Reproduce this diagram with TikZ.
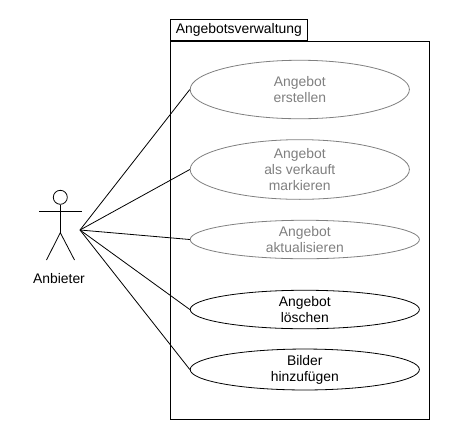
\documentclass[tikz,border=0pt]{standalone}
\usepackage{fontspec}
\setmainfont{Liberation Sans}
\usetikzlibrary{shapes.geometric}
\tikzset{
  px/.style={x=1pt,y=-1pt,line width=0.8pt},
  usecase/.style={ellipse,draw,fill=white,line width=0.8pt,inner sep=0pt,align=center,font=\fontsize{13.9}{16}\selectfont,execute at begin node={\rule{0pt}{12.1pt}}},
  grayed/.style={draw=black!50,text=black!50},
  link/.style={draw=black,line width=0.8pt},
  frameline/.style={draw=black,line width=0.8pt}
}
\begin{document}
\begin{tikzpicture}[px]
\useasboundingbox (0,0) rectangle (450,440);
\fill[white] (0,0) rectangle (450,440);
\node[draw,frameline,fill=white,minimum width=259pt,minimum height=377.5pt,inner sep=0pt,anchor=north west] (frame) at (170.2,41.2) {};
\node[frameline,draw,fill=white,minimum width=136.5pt,minimum height=21pt,inner sep=0pt,anchor=south west,font=\fontsize{13.9}{14}\selectfont] (tab) at (170.2,41.2) {Angebotsverwaltung};
\coordinate (hub) at (80,230);
\node[usecase,grayed,minimum width=219.2pt,minimum height=58.5pt] (u1) at (299.8,89.5) {Angebot\\erstellen};
\node[usecase,grayed,minimum width=219.2pt,minimum height=58.5pt] (u2) at (299.8,169.5) {Angebot\\als verkauft\\markieren};
\node[usecase,grayed,minimum width=229.2pt,minimum height=38.5pt] (u3) at (304.8,239.5) {Angebot\\aktualisieren};
\node[usecase,minimum width=229.2pt,minimum height=38.5pt] (u4) at (304.8,309.5) {Angebot\\löschen};
\node[usecase,minimum width=229.2pt,minimum height=38.5pt] (u5) at (304.8,369.5) {Bilder\\hinzufügen};
\foreach \u in {u1,u2,u3,u4,u5} \draw[link] (hub) -- (\u.west);
\node[circle,draw,line width=0.8pt,minimum size=14pt,inner sep=0pt] (head) at (60.3,197.3) {};
\coordinate (hip) at (60.3,232.7);
\coordinate (armL) at (39,211);
\coordinate (armR) at (82,211);
\coordinate (legL) at (46.5,260);
\coordinate (legR) at (74.5,260);
\draw[link] (head.south) -- (hip);
\draw[link] (armL) -- (armR);
\draw[link] (legL) -- (hip) -- (legR);
\node[font=\fontsize{13.9}{14}\selectfont,inner sep=0pt] (actor) at (59,278.5) {Anbieter};
\end{tikzpicture}
\end{document}
